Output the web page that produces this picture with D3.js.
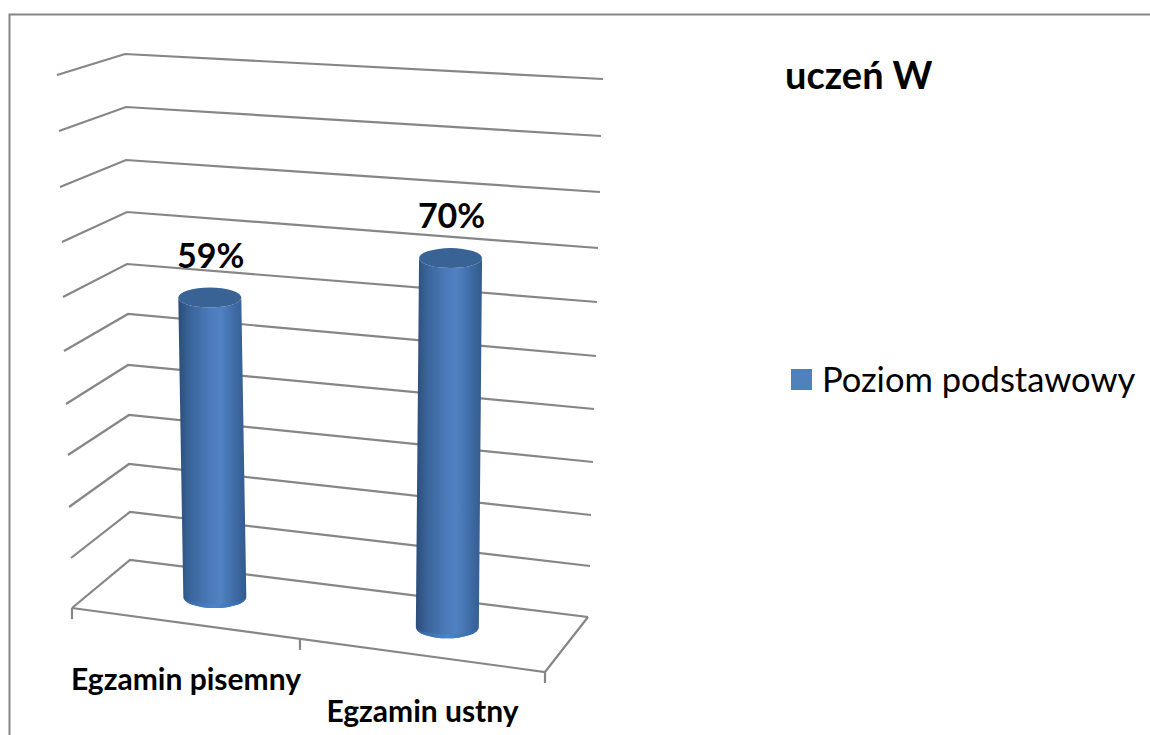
<!DOCTYPE html>
<html><head><meta charset="utf-8">
<script src="https://cdn.jsdelivr.net/npm/d3@7"></script>
<style>html,body{margin:0;padding:0;background:#fff}svg{display:block}text{font-family:Lato,"Noto Sans",sans-serif;fill:#000}</style>
</head><body><svg id="c" width="1150" height="735"></svg>
<script>
// --- data ---
const categories = ["Egzamin pisemny", "Egzamin ustny"];
const values = [0.59, 0.70];
const axisTicks = [0, 0.1, 0.2, 0.3, 0.4, 0.5, 0.6, 0.7, 0.8, 0.9, 1];
const seriesName = "Poziom podstawowy";
const chartTitle = "uczeń W";

// --- oblique 3-D frame: one scale per box corner, value -> pixel ---
const corner = (xs, ys) => ({
  x: d3.scaleLinear().domain(axisTicks).range(xs),
  y: d3.scaleLinear().domain(axisTicks).range(ys)
});
const FL = corner([72,71,69,68,66,64,63,62,60,59,57], [608,558,507,455,404,351,297,242,187,131,75]);
const BL = corner([130,130,129,129,128,128,127,127,126,126,125], [560,512,464,415,365,314,264,212,160,107,54]);
const BR = corner([588,590,591,593,594,596,597,598,600,601,603], [617,566,515,462,409,356,302,248,192,136,79]);
const FR = corner([545,545,545,545,545,545,545,552,552,552,552], [672,621,570,517,464,411,357,290,247,191,134]);

const band = d3.scaleBand().domain(categories).range([0, 1]);
const warp = d3.scaleLinear().domain([0, 0.5, 1]).range([0, 0.482, 1]);

function project(u, v, t) {           // u along categories, v depth (0 front, 1 back), t value
  const uu = warp(u);
  const fx = d3.interpolateNumber(FL.x(t), FR.x(t))(uu), fy = d3.interpolateNumber(FL.y(t), FR.y(t))(uu);
  const bx = d3.interpolateNumber(BL.x(t), BR.x(t))(uu), by = d3.interpolateNumber(BL.y(t), BR.y(t))(uu);
  return [fx + (bx - fx) * v, fy + (by - fy) * v];
}

const svg = d3.select("#c");
const GRID = "#868686";

// chart frame
svg.append("path").attr("d", "M9.5,735V14.5H1150").attr("fill", "none").attr("stroke", GRID).attr("stroke-width", 2);

// gridlines: side wall + back wall
const line = d3.line();
const grid = svg.append("g").attr("fill", "none").attr("stroke", GRID).attr("stroke-width", 2.2);
grid.selectAll("path").data(axisTicks).join("path")
  .attr("d", t => line([project(0,0,t), project(0,1,t), project(1,1,t)]));
// floor front edge + right edge
grid.append("path").attr("d", line([project(0,0,0), project(1,0,0), project(1,1,0)]));
// category ticks
grid.selectAll("path.tick").data([0, 0.5, 1]).join("path").attr("class", "tick")
  .attr("d", u => { const p = project(u,0,0); return line([p, [p[0], p[1] + 11]]); });

// gradient
const defs = svg.append("defs");
const g = defs.append("linearGradient").attr("id", "cyl");
[[0,"#2c4d78"],[0.18,"#3a659c"],[0.45,"#4a7ab8"],[0.62,"#5182c2"],[0.82,"#3f6ca6"],[1,"#335a8c"]]
  .forEach(([o,c]) => g.append("stop").attr("offset", o).attr("stop-color", c));
const gb = defs.append("linearGradient").attr("id", "rim");
[[0,"#3566a6"],[0.5,"#4a86cc"],[1,"#3566a6"]]
  .forEach(([o,c]) => gb.append("stop").attr("offset", o).attr("stop-color", c));

// cylinders
const RX = 31.5, RY_TOP = 10, RY_BOT = 11;
const bars = svg.append("g").selectAll("g").data(categories).join("g");
bars.each(function(cat, i) {
  const u = band(cat) + band.bandwidth() / 2;
  const b = project(u, 0.53, 0), t = project(u, 0.5, values[i]);
  const s = d3.select(this);
  s.append("path").attr("fill", "url(#cyl)")
    .attr("d", `M${t[0]-RX},${t[1]}L${b[0]-RX},${b[1]}A${RX},${RY_BOT} 0 0 0 ${b[0]+RX},${b[1]}L${t[0]+RX},${t[1]}A${RX},${RY_TOP} 0 0 1 ${t[0]-RX},${t[1]}Z`);
  s.append("path").attr("fill", "url(#rim)")
    .attr("d", `M${b[0]-RX},${b[1]}A${RX},${RY_BOT} 0 0 0 ${b[0]+RX},${b[1]}A${RX},${RY_BOT-4} 0 0 1 ${b[0]-RX},${b[1]}Z`);
  s.append("ellipse").attr("cx", t[0]).attr("cy", t[1]).attr("rx", RX).attr("ry", RY_TOP).attr("fill", "#3a6395");
  s.append("text").attr("x", t[0] + 1).attr("y", t[1] - 30).attr("text-anchor", "middle")
    .attr("font-size", 34).attr("font-weight", 700).text(d3.format(".0%")(values[i]));
  const f = project(u, 0, 0);
  s.append("text").attr("x", f[0]).attr("y", f[1] + 67).attr("text-anchor", "middle")
    .attr("font-size", 30).attr("font-weight", 700).text(cat);
});

// title and legend
svg.append("text").attr("x", 785).attr("y", 89).attr("font-size", 38).attr("font-weight", 700).text(chartTitle);
svg.append("rect").attr("x", 791).attr("y", 369).attr("width", 21).attr("height", 21).attr("fill", "#4f81bd");
svg.append("text").attr("x", 822).attr("y", 392).attr("font-size", 34.5).text(seriesName);
</script></body></html>
